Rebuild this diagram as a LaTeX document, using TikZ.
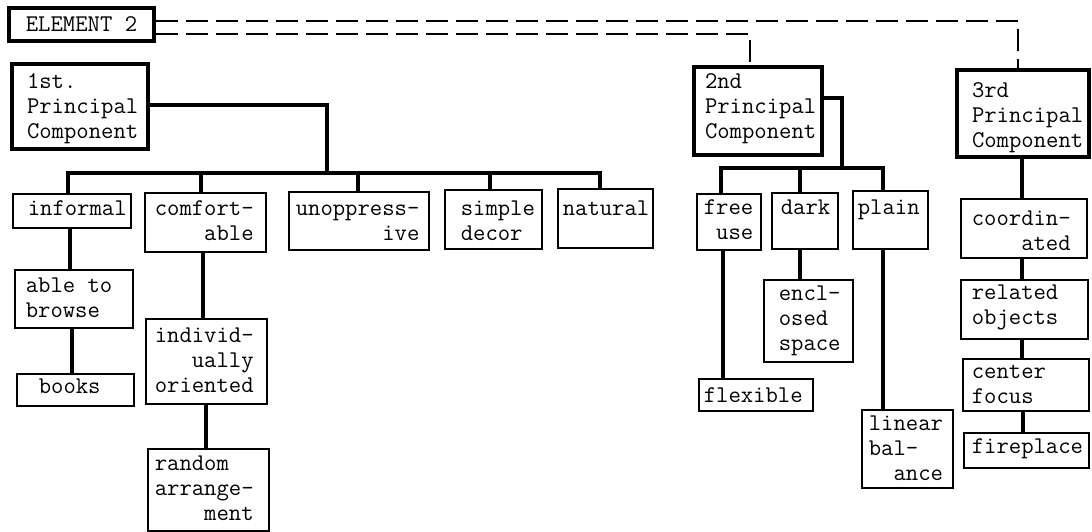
\documentclass[tikz,border=0pt]{standalone}
\newdimen\pxu \pxu=0.5pt
\newcommand\bt[5][22]{\parbox[t][#3\pxu][t]{#2\pxu}{\fontsize{12pt}{12.5pt}\selectfont\ttfamily\raggedright\leftskip=#4\pxu\relax\rule{0pt}{#1\pxu}#5}}
\newcommand\sk[1]{\phantom{#1}}
\tikzset{
  lbox/.style={draw, line width=0.8pt, inner sep=0pt, anchor=north west},
  pbox/.style={lbox, line width=2pt},
  conn/.style={line width=2.3pt},
  dline/.style={line width=0.7pt, dash pattern=on 11pt off 4pt},
}
\begin{document}
\begin{tikzpicture}[x=0.5pt, y=-0.5pt]
\useasboundingbox (0,0) rectangle (1092,531);
% top element and principal components
\node[pbox, minimum width=145\pxu, minimum height=33\pxu, font=\fontsize{12pt}{12.5pt}\selectfont\ttfamily] (elem) at (7,6) {ELEMENT 2};
\node[pbox] (pc1) at (10,62) {\bt[24]{136}{85}{15}{1st.\\Principal\\Component}};
\node[pbox] (pc2) at (692,65) {\bt[21]{128}{88}{11}{2nd\\Principal\\Component}};
\node[pbox] (pc3) at (955,68) {\bt[27]{132}{87}{15}{3rd\\Principal\\Component}};
% first component branch
\node[lbox] (informal) at (12,193) {\bt[22]{118}{34}{15}{informal}};
\node[lbox] (comfort) at (144,192) {\bt[23]{121}{59}{10}{comfort-\\\sk{oooo}able}};
\node[lbox] (unop) at (288,191) {\bt[24]{140}{58}{7}{unoppress-\\\sk{ooooooo}ive}};
\node[lbox] (simple) at (444,189) {\bt[26]{97}{59}{16}{simple\\decor}};
\node[lbox] (natural) at (557,188) {\bt[27]{95}{59}{5}{natural}};
\node[lbox] (able) at (14,269) {\bt[23]{118}{58}{11}{able to\\browse}};
\node[lbox] (books) at (16,373) {\bt[20]{117}{32}{22}{books}};
\node[lbox] (individ) at (145,318) {\bt[24]{121}{85}{9}{individ-\\\sk{ooo}ually\\oriented}};
\node[lbox] (random) at (147,448) {\bt[22]{121}{82}{7}{random\\arrange-\\\sk{oooo}ment}};
% second component branch
\node[lbox] (freeuse) at (696,193) {\bt[21]{64}{56}{7}{free\\\sk{o}use}};
\node[lbox] (dark) at (771,192) {\bt[22]{66}{56}{9}{dark}};
\node[lbox] (plain) at (852,190) {\bt[24]{75}{58}{5}{plain}};
\node[lbox] (flexible) at (698,378) {\bt[24]{114}{32}{5}{flexible}};
\node[lbox] (encl) at (763,279) {\bt[21]{89}{82}{15}{encl-\\osed\\space}};
\node[lbox] (linear) at (861,409) {\bt[21]{91}{78}{7}{linear\\bal-\\\sk{oo}ance}};
% third component branch
\node[lbox] (coord) at (960,198) {\bt[27]{126}{59}{11}{coordin-\\\sk{oooo}ated}};
\node[lbox] (related) at (960,279) {\bt[20]{127}{59}{11}{related\\objects}};
\node[lbox] (center) at (962,358) {\bt[20]{126}{52}{9}{center\\focus}};
\node[lbox] (fire) at (963,432) {\bt[21]{125}{35}{8}{fireplace}};
% dashed links
\draw[dline] (elem.east |- 0,21) -| (pc3.north -| 1018,0);
\draw[dline] (elem.east |- 0,34) -| (pc2.north -| 750,0);
% buses
\coordinate (b1) at (327,173);
\coordinate (b2) at (842,168);
\draw[conn] (pc1.east |- 0,105) -| (b1);
\draw[conn] (informal.north -| 68,0) |- (b1) -| (natural.north -| 600,0);
\draw[conn] (comfort.north -| 201,0) -- (b1 -| 201,0);
\draw[conn] (unop.north -| 358,0) -- (b1 -| 358,0);
\draw[conn] (simple.north -| 490,0) -- (b1 -| 490,0);
\draw[conn] (pc2.east |- 0,98) -| (b2);
\draw[conn] (freeuse.north -| 721,0) |- (b2) -| (plain.north -| 883,0);
\draw[conn] (dark.north -| 800,0) -- (b2 -| 800,0);
% chains
\draw[conn] (informal.south -| 70,0) -- (able.north -| 70,0);
\draw[conn] (able.south -| 72,0) -- (books.north -| 72,0);
\draw[conn] (comfort.south -| 203,0) -- (individ.north -| 203,0);
\draw[conn] (individ.south -| 206,0) -- (random.north -| 206,0);
\draw[conn] (freeuse.south -| 723,0) -- (flexible.north -| 723,0);
\draw[conn] (dark.south -| 800,0) -- (encl.north -| 800,0);
\draw[conn] (plain.south -| 883,0) -- (linear.north -| 883,0);
\draw[conn] (pc3.south -| 1022,0) -- (coord.north -| 1022,0);
\draw[conn] (coord.south -| 1022,0) -- (related.north -| 1022,0);
\draw[conn] (related.south -| 1022,0) -- (center.north -| 1022,0);
\draw[conn] (center.south -| 1023,0) -- (fire.north -| 1023,0);
\end{tikzpicture}
\end{document}
